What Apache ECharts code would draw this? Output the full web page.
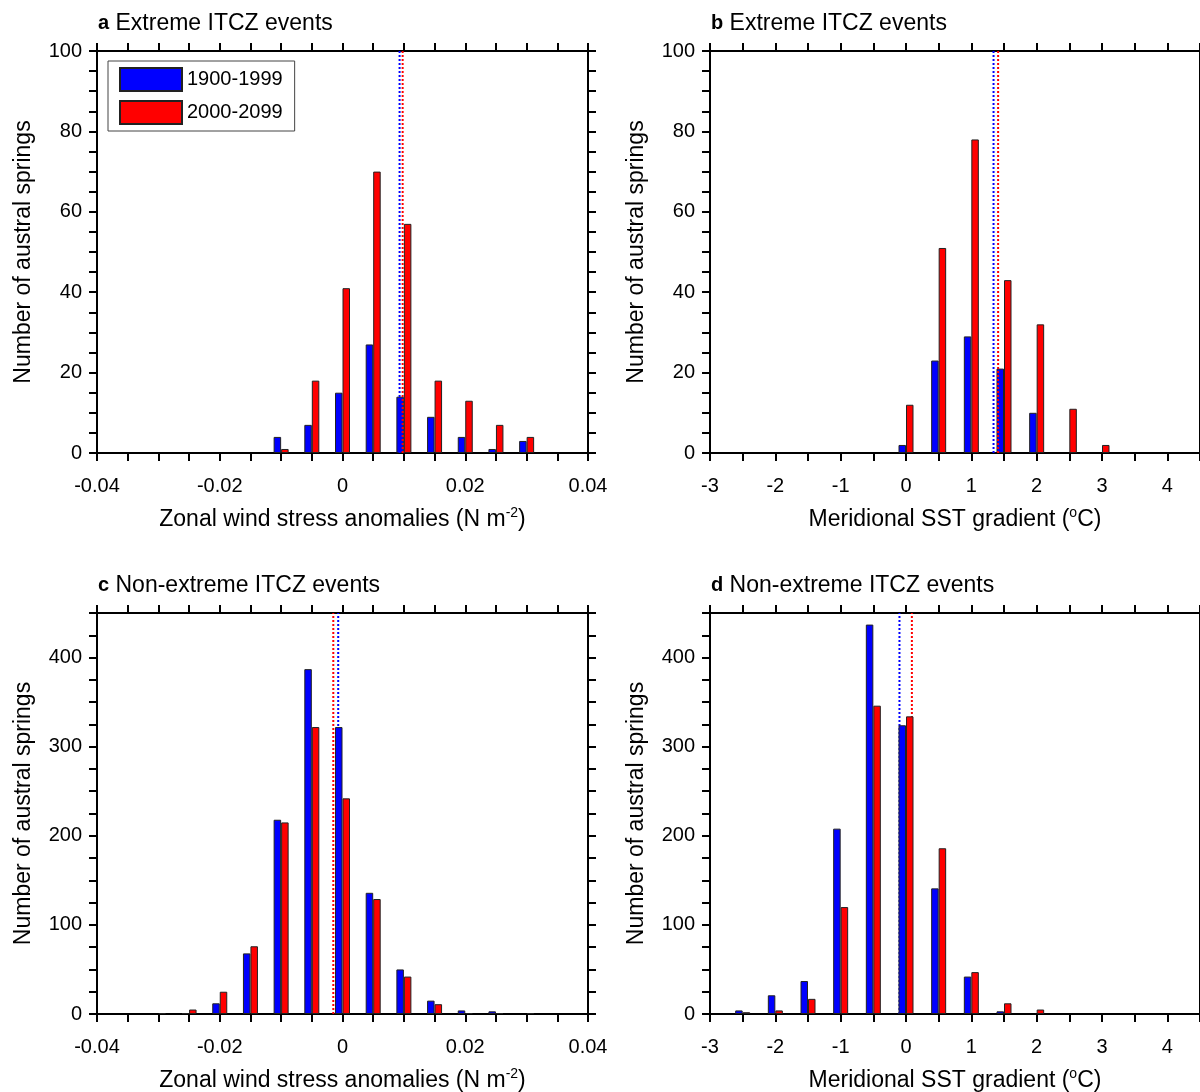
<!DOCTYPE html>
<html>
<head>
<meta charset="utf-8">
<script src="https://cdn.jsdelivr.net/npm/echarts@6/dist/echarts.min.js"></script>
<style>
html, body { margin: 0; background: #fff; }
#chart { width: 1200px; height: 1092px; }
</style>
</head>
<body>
<div id="chart"></div>
<script>
var seriesNames = ['1900-1999', '2000-2099'];

// bin centres
var windBins = [-0.03, -0.025, -0.02, -0.015, -0.01, -0.005, 0, 0.005, 0.01, 0.015, 0.02, 0.025, 0.03];
var sstBins = [-2.5, -2, -1.5, -1, -0.5, 0, 0.5, 1, 1.5, 2, 2.5, 3];

// counts
var aBlue = [0, 0, 0, 0, 4, 7, 15, 27, 14, 9, 4, 1, 3];
var aRed = [0, 0, 0, 0, 1, 18, 41, 70, 57, 18, 13, 7, 4];
var bBlue = [0, 0, 0, 0, 0, 2, 23, 29, 21, 10, 0, 0];
var bRed = [0, 0, 0, 0, 0, 12, 51, 78, 43, 32, 11, 2];
var cBlue = [0, 1, 12, 68, 218, 387, 322, 136, 50, 15, 4, 3, 0];
var cRed = [1, 5, 25, 76, 215, 322, 242, 129, 42, 11, 1, 1, 1];
var dBlue = [4, 21, 37, 208, 437, 324, 141, 42, 3, 0, 0, 0];
var dRed = [2, 4, 17, 120, 346, 334, 186, 47, 12, 5, 0, 0];

// means (dotted lines): [1900-1999, 2000-2099]
var meanA = [0.0093, 0.0098];
var meanB = [1.34, 1.41];
var meanC = [-0.0007, -0.0015];
var meanD = [-0.10, 0.09];

var panelTitles = [
    ['a', 'Extreme ITCZ events'],
    ['b', 'Extreme ITCZ events'],
    ['c', 'Non-extreme ITCZ events'],
    ['d', 'Non-extreme ITCZ events']
];

var windName = 'Zonal wind stress anomalies (N m{sup|-2})';
var sstName = 'Meridional SST gradient ({sup|o}C)';
var yName = 'Number of austral springs';

var colors = ['#0000ff', '#ff0000'];
var font = 'Liberation Sans';

var panels = [
    { left: 97, top: 51, width: 491, height: 402, x: [-0.04, 0.04, 0.005, 0.02], y: [0, 100, 5, 20],
      bins: windBins, vals: [aBlue, aRed], means: meanA, xName: windName, lineZ: 4 },
    { left: 710, top: 51, width: 490, height: 402, x: [-3, 4.5, 0.5, 1], y: [0, 100, 5, 20],
      bins: sstBins, vals: [bBlue, bRed], means: meanB, xName: sstName, lineZ: 4 },
    { left: 97, top: 613, width: 491, height: 401, x: [-0.04, 0.04, 0.005, 0.02], y: [0, 450, 25, 100],
      bins: windBins, vals: [cBlue, cRed], means: meanC, xName: windName, lineZ: 2 },
    { left: 710, top: 613, width: 490, height: 401, x: [-3, 4.5, 0.5, 1], y: [0, 450, 25, 100],
      bins: sstBins, vals: [dBlue, dRed], means: meanD, xName: sstName, lineZ: 2 }
];

function majorOnly(step) {
    return function (v) {
        var k = v / step;
        if (Math.abs(k - Math.round(k)) > 1e-6) return '';
        return String(+v.toFixed(4));
    };
}

function axisBase(g, range, showLabels, labelMargin) {
    return {
        type: 'value',
        gridIndex: g,
        min: range[0],
        max: range[1],
        interval: range[2],
        axisLine: { show: true, onZero: false, lineStyle: { color: '#000', width: 2 } },
        axisTick: { show: true, inside: false, length: 8, lineStyle: { color: '#000', width: 2 } },
        axisLabel: {
            show: showLabels, margin: labelMargin, color: '#000', fontSize: 20, fontFamily: font,
            formatter: majorOnly(range[3])
        },
        splitLine: { show: false }
    };
}

var grids = [], xAxes = [], yAxes = [], series = [], titles = [];

panels.forEach(function (p, g) {
    grids.push({ left: p.left, top: p.top, width: p.width, height: p.height, outerBoundsMode: 'none' });

    var xb = axisBase(g, p.x, true, 23);
    xb.position = 'bottom';
    xb.name = p.xName;
    xb.nameLocation = 'middle';
    xb.nameGap = 53;
    xb.nameTextStyle = {
        color: '#000', fontSize: 23, fontFamily: font, lineHeight: 28,
        rich: { sup: { fontSize: 14, fontFamily: font, color: '#000', verticalAlign: 'top', lineHeight: 12 } }
    };
    xAxes.push(xb);
    var xt = axisBase(g, p.x, false, 8);
    xt.position = 'top';
    xAxes.push(xt);

    var yl = axisBase(g, p.y, true, 15);
    yl.position = 'left';
    yl.name = yName;
    yl.nameLocation = 'middle';
    yl.nameGap = 62;
    yl.nameTextStyle = { color: '#000', fontSize: 23, fontFamily: font };
    yAxes.push(yl);
    var yr = axisBase(g, p.y, false, 8);
    yr.position = 'right';
    yAxes.push(yr);

    seriesNames.forEach(function (name, s) {
        var data = [];
        p.bins.forEach(function (b, i) {
            if (p.vals[s][i] > 0) data.push([b, p.vals[s][i]]);
        });
        series.push({
            name: name,
            type: 'bar',
            xAxisIndex: g * 2,
            yAxisIndex: g * 2,
            barWidth: 7.5,
            barGap: '0%',
            z: 3,
            itemStyle: { color: colors[s], borderColor: '#222', borderWidth: 1 },
            data: data
        });
    });

    // dotted mean lines, spanning the full y range
    seriesNames.forEach(function (name, s) {
        series.push({
            type: 'line',
            xAxisIndex: g * 2,
            yAxisIndex: g * 2,
            symbol: 'none',
            silent: true,
            z: p.lineZ,
            lineStyle: { color: colors[s], type: [2, 2], width: 2 },
            data: [[p.means[s], p.y[0]], [p.means[s], p.y[1]]]
        });
    });

    titles.push({
        left: p.left + 1,
        top: p.top - 39,
        padding: 0,
        text: '{b|' + panelTitles[g][0] + '} ' + panelTitles[g][1],
        textStyle: {
            color: '#000', fontSize: 23, fontWeight: 'normal', fontFamily: font,
            rich: { b: { fontWeight: 'bold', fontSize: 20, fontFamily: font, color: '#000' } }
        }
    });
});

var chart = echarts.init(document.getElementById('chart'));
chart.setOption({
    animation: false,
    backgroundColor: '#fff',
    textStyle: { fontFamily: font },
    title: titles,
    legend: {
        data: seriesNames,
        orient: 'vertical',
        left: 108,
        top: 61,
        icon: 'rect',
        itemWidth: 62,
        itemHeight: 23,
        itemGap: 8,
        padding: [6, 12, 6, 11],
        borderColor: '#444',
        borderWidth: 1,
        backgroundColor: '#fff',
        textStyle: { color: '#000', fontSize: 20, fontFamily: font },
        selectedMode: false
    },
    grid: grids,
    xAxis: xAxes,
    yAxis: yAxes,
    series: series
});
</script>
</body>
</html>
